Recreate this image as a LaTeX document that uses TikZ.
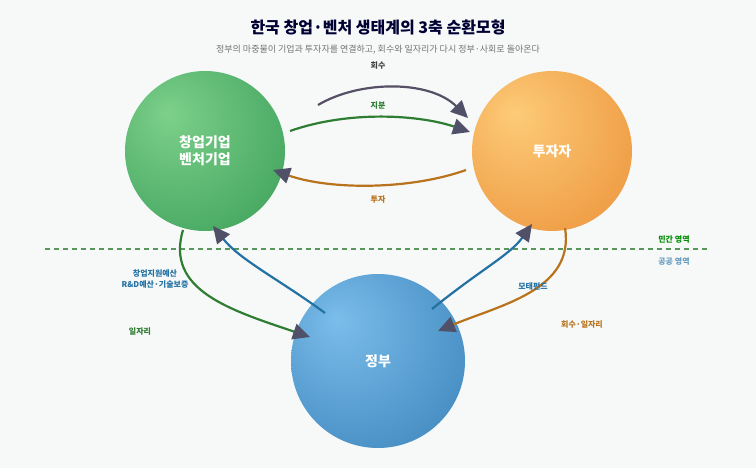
\documentclass[tikz,border=0pt]{standalone}
\usepackage{fontspec}
\setmainfont{Noto Sans CJK KR}
\usetikzlibrary{arrows.meta}
\definecolor{bg}{HTML}{F7F9F9}
\definecolor{tip}{HTML}{505068}
\definecolor{gline}{HTML}{2E7D32}
\definecolor{oline}{HTML}{B8731C}
\definecolor{bline}{HTML}{2471A3}
\definecolor{kline}{HTML}{555066}
\definecolor{cg1}{HTML}{7DD08A}
\definecolor{cg2}{HTML}{1E8A44}
\definecolor{co1}{HTML}{FDCB78}
\definecolor{co2}{HTML}{E47A1E}
\definecolor{cb1}{HTML}{7BBDEB}
\definecolor{cb2}{HTML}{1F6AA5}
\pgfdeclareradialshading{gballs}{\pgfpoint{-12bp}{12bp}}{color(0bp)=(cg1);color(62bp)=(cg2);color(70bp)=(cg2)}
\pgfdeclareradialshading{oballs}{\pgfpoint{-12bp}{12bp}}{color(0bp)=(co1);color(62bp)=(co2);color(70bp)=(co2)}
\pgfdeclareradialshading{bballs}{\pgfpoint{-12bp}{12bp}}{color(0bp)=(cb1);color(62bp)=(cb2);color(70bp)=(cb2)}
\begin{document}
\begin{tikzpicture}[x=1pt,y=-1pt,
  ball/.style={circle,minimum size=#1,inner sep=0pt,text=white,font=\bfseries\fontsize{14}{17}\selectfont,align=center},
  flow/.style={line width=2.2pt,-{Triangle[length=17pt,width=16pt,color=tip]}},
  lab/.style={font=\bfseries\fontsize{8}{10}\selectfont,align=center}]
\fill[bg] (0,0) rectangle (756,468);
\useasboundingbox (0,0) rectangle (756,468);
\node[font=\bfseries\fontsize{16}{19}\selectfont,text=black!80!blue] (t) at (378,27) {한국 창업·벤처 생태계의 3축 순환모형};
\node[font=\fontsize{9}{11}\selectfont,text=black!55] (st) at (378,50) {정부의 마중물이 기업과 투자자를 연결하고, 회수와 일자리가 다시 정부·사회로 돌아온다};
\draw[gline!80,dashed,line width=1.2pt,dash pattern=on 5pt off 4pt] (45,249) -- (710,249);
\node[lab,text=green!55!black] (pv) at (674,240) {민간 영역};
\node[lab,text=bline!70] (pb) at (674,262) {공공 영역};
\node[ball=160pt,shading=gballs] (g) at (205,151) {창업기업\\벤처기업};
\node[ball=160pt,shading=oballs] (o) at (552,151) {투자자};
\node[ball=174pt,shading=bballs] (b) at (378,361) {정부};
\coordinate (a1) at (318,105); \coordinate (a2) at (468,118);
\coordinate (b1) at (290,131); \coordinate (b2) at (470,132);
\coordinate (c1) at (466,170); \coordinate (c2) at (273,170);
\coordinate (d1) at (183,230); \coordinate (d2) at (310,337);
\coordinate (e1) at (325,313); \coordinate (e2) at (213,226);
\coordinate (f1) at (432,309); \coordinate (f2) at (532,224);
\coordinate (h1) at (565,228); \coordinate (h2) at (438,331);
\draw[flow,kline] (a1) .. controls (360,80) and (430,80) .. (a2);
\draw[flow,gline] (b1) .. controls (350,110) and (420,115) .. (b2);
\draw[flow,oline] (c1) .. controls (410,190) and (330,190) .. (c2);
\draw[flow,gline] (d1) .. controls (165,290) and (230,310) .. (d2);
\draw[flow,bline] (e1) .. controls (280,280) and (240,260) .. (e2);
\draw[flow,bline] (f1) .. controls (480,270) and (510,255) .. (f2);
\draw[flow,oline] (h1) .. controls (575,290) and (500,305) .. (h2);
\node[lab,text=black!75] (la) at (378,66) {회수};
\node[lab,text=gline] (lb) at (378,106) {지분};
\node[lab,text=oline] (lc) at (378,200) {투자};
\node[lab,text=gline] (ld) at (140,332) {일자리};
\node[lab,text=bline,font=\bfseries\fontsize{8}{11}\selectfont] (le) at (155,279) {창업지원예산\\R\&D예산·기술보증};
\node[lab,text=bline] (lf) at (533,286) {모태펀드};
\node[lab,text=oline] (lh) at (582,325) {회수·일자리};
\end{tikzpicture}
\end{document}
